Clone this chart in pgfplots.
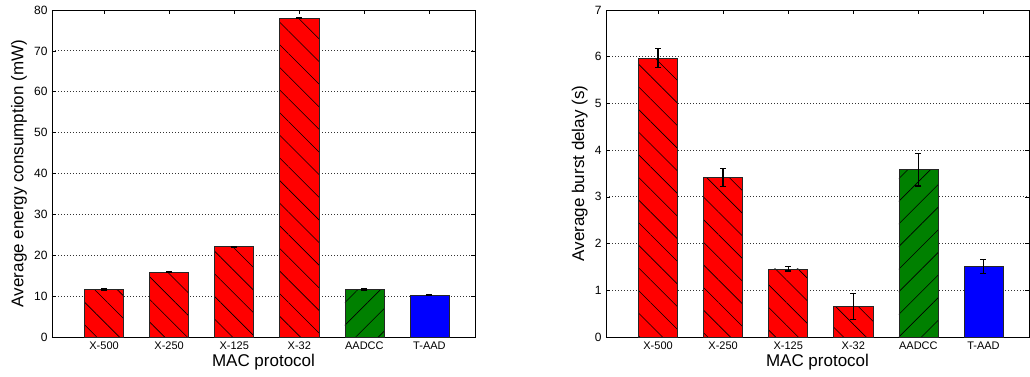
\documentclass[border=0pt]{standalone}
\usepackage{pgfplots}
\pgfplotsset{compat=1.18}
\usepackage{fontspec}
\setmainfont{Liberation Sans}
\usetikzlibrary{patterns.meta}
\definecolor{mgreen}{RGB}{0,128,0}
\definecolor{mblue}{RGB}{0,0,255}
\definecolor{mred}{RGB}{255,0,0}
\pgfplotsset{
  redbar/.style={fill=mred, draw=black!85, line width=0.6pt,
    postaction={pattern={Lines[angle=-45,distance=16pt,line width=0.6pt]}}},
  greenbar/.style={fill=mgreen, draw=black!85, line width=0.6pt,
    postaction={pattern={Lines[angle=45,distance=16pt,line width=0.6pt]}}},
  bluebar/.style={fill=mblue, draw=black!85, line width=0.6pt},
  errs/.style={error bars/.cd, y dir=both, y explicit,
    error bar style={line width=1.3pt,black},
    error mark options={rotate=90, mark size=3pt, line width=1.3pt, black}},
  myaxis/.style={
    scale only axis, width=423pt, height=327pt,
    ybar, bar width=0.6, bar shift=0pt,
    xmin=0.2, xmax=6.7, ymin=0,
    xtick={1,2,3,4,5,6},
    xticklabels={X-500,X-250,X-125,X-32,AADCC,T-AAD},
    tick pos=both, tick align=inside, major tick length=4pt,
    ymajorgrids, grid style={dash pattern=on 0.8pt off 2.2pt, black!80, line width=0.8pt},
    axis line style={black, line width=0.6pt},
    tick style={black, line width=0.6pt},
    /pgf/number format/assume math mode=true,
    yticklabel style={font=\fontsize{12}{13}\selectfont, xshift=-1pt},
    xticklabel style={font=\fontsize{11}{12}\selectfont, yshift=-1pt},
    xlabel={MAC protocol},
    label style={font=\fontsize{17}{19}\selectfont},
    xlabel style={at={(axis description cs:0.5,-0.0765)}, anchor=center},
  }
}
\begin{document}
\begin{tikzpicture}
\useasboundingbox (-52pt,-39pt) rectangle (978pt,337pt);
\begin{axis}[myaxis, ymax=80, ytick={0,10,20,30,40,50,60,70,80},
  ylabel={Average energy consumption (mW)},
  ylabel style={at={(axis description cs:-0.078,0.5)}, anchor=center}]
\addplot[redbar, errs] coordinates {(1,11.6) +- (0,0.12)};
\addplot[redbar, errs] coordinates {(2,15.9) +- (0,0.12)};
\addplot[redbar, errs] coordinates {(3,22.1) +- (0,0.12)};
\addplot[redbar, errs] coordinates {(4,78.0) +- (0,0.12)};
\addplot[greenbar, errs] coordinates {(5,11.6) +- (0,0.12)};
\addplot[bluebar, errs] coordinates {(6,10.2) +- (0,0.08)};
\end{axis}
\begin{axis}[myaxis, xshift=554pt, ymax=7, ytick={0,1,2,3,4,5,6,7},
  ylabel={Average burst delay (s)},
  ylabel style={at={(axis description cs:-0.062,0.5)}, anchor=center}]
\addplot[redbar, errs] coordinates {(1,5.97) +- (0,0.20)};
\addplot[redbar, errs] coordinates {(2,3.41) +- (0,0.19)};
\addplot[redbar, errs] coordinates {(3,1.46) +- (0,0.05)};
\addplot[redbar, errs] coordinates {(4,0.65) +- (0,0.28)};
\addplot[greenbar, errs] coordinates {(5,3.58) +- (0,0.345)};
\addplot[bluebar, errs] coordinates {(6,1.51) +- (0,0.145)};
\end{axis}
\end{tikzpicture}
\end{document}
